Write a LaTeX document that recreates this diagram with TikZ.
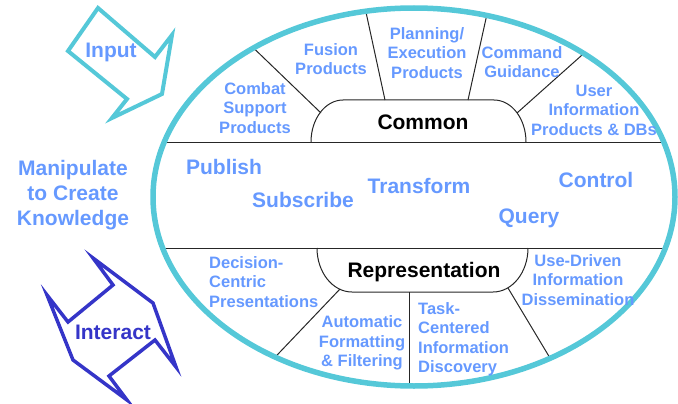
\documentclass[tikz,border=0pt]{standalone}
\usepackage{fontspec}
\setmainfont{Liberation Sans}
\usepackage{tikz}
\usepackage{xcolor}
\definecolor{rimcyan}{HTML}{55C8D8}
\definecolor{lblue}{HTML}{6699FF}
\definecolor{iblue}{HTML}{3535C8}

\begin{document}
\begin{tikzpicture}[x=1pt, y=-1pt,
    lbl/.style={text=lblue, font=\fontsize{16.5}{19.5}\selectfont\bfseries, align=center, inner sep=0pt},
    big/.style={text=lblue, font=\fontsize{21}{25}\selectfont\bfseries, align=center, inner sep=0pt},
    head/.style={text=black, font=\fontsize{21}{25}\selectfont\bfseries, inner sep=0pt},
    divider/.style={draw=black!85, line width=1pt}]
    \useasboundingbox (0,0) rectangle (678,404);

    % Dividers inside the ellipse
    \begin{scope}
        \clip (414,197) ellipse [x radius=261, y radius=189];
        \draw[divider] (140,142) -- (690,142);
        \draw[divider] (140,248) -- (690,248);
        \draw[divider] (321,113) -- (240,35);
        \draw[divider] (385,100) -- (364,3);
        \draw[divider] (468,100) -- (489,5);
        \draw[divider] (517,113) -- (600,39);
        \draw[divider] (340,289) -- (260,373);
        \draw[divider] (409,292) -- (409,400);
        \draw[divider] (508,288) -- (565,383);
    \end{scope}

    % Common and Representation boxes
    \draw[divider] (311,142) arc[start angle=180, end angle=270, x radius=32, y radius=42]
        -- (494,100) arc[start angle=270, end angle=360, x radius=32, y radius=42];
    \draw[divider] (317,248) arc[start angle=180, end angle=90, x radius=35, y radius=44]
        -- (493,292) arc[start angle=90, end angle=0, x radius=35, y radius=44];

    % Outer ellipse
    \draw[rimcyan, line width=5.5pt] (414,197) ellipse [x radius=261, y radius=189];

    % Input arrow
    \draw[rimcyan, line width=4pt] (98,8) -- (155,57) -- (172,35) -- (162,94)
        -- (112,118) -- (127,99) -- (68,51) -- cycle;
    \node[big] (input) at (111,52) {Input};

    % Interact arrow
    \draw[iblue, line width=3.5pt] (93,258) -- (153,303) -- (176,367) -- (155,340)
        -- (109,376) -- (127,400) -- (73,360) -- (47,295) -- (68,322) -- (113,285) -- cycle;
    \node[big, text=iblue] (interact) at (113,332) {Interact};

    \node[big] (manip) at (73,195) {Manipulate\\to Create\\Knowledge};

    % Upper half
    \node[lbl] (combat) at (255,108) {Combat\\Support\\Products};
    \node[lbl] (fusion) at (331,59) {Fusion\\Products};
    \node[lbl] (planning) at (427,53) {Planning/\\Execution\\Products};
    \node[lbl] (command) at (522,62) {Command\\Guidance};
    \node[lbl] (user) at (594,110) {User\\Information\\Products \& DBs};
    \node[head] (common) at (423,122) {Common};

    % Middle band
    \node[big] (publish) at (224,167) {Publish};
    \node[big] (subscribe) at (303,200) {Subscribe};
    \node[big] (transform) at (419,186) {Transform};
    \node[big] (control) at (596,180) {Control};
    \node[big] (query) at (529,218) {Query};

    % Lower half
    \node[head] (repr) at (424,272) {Representation};
    \node[lbl, align=left, anchor=west] (decision) at (209,282) {Decision-\\Centric\\Presentations};
    \node[lbl] (auto) at (362,343) {Automatic\\Formatting\\\& Filtering};
    \node[lbl, align=left, anchor=west] (task) at (418,339) {Task-\\Centered\\Information\\Discovery};
    \node[lbl] (use) at (578,280) {Use-Driven\\Information\\Dissemination};
\end{tikzpicture}
\end{document}
